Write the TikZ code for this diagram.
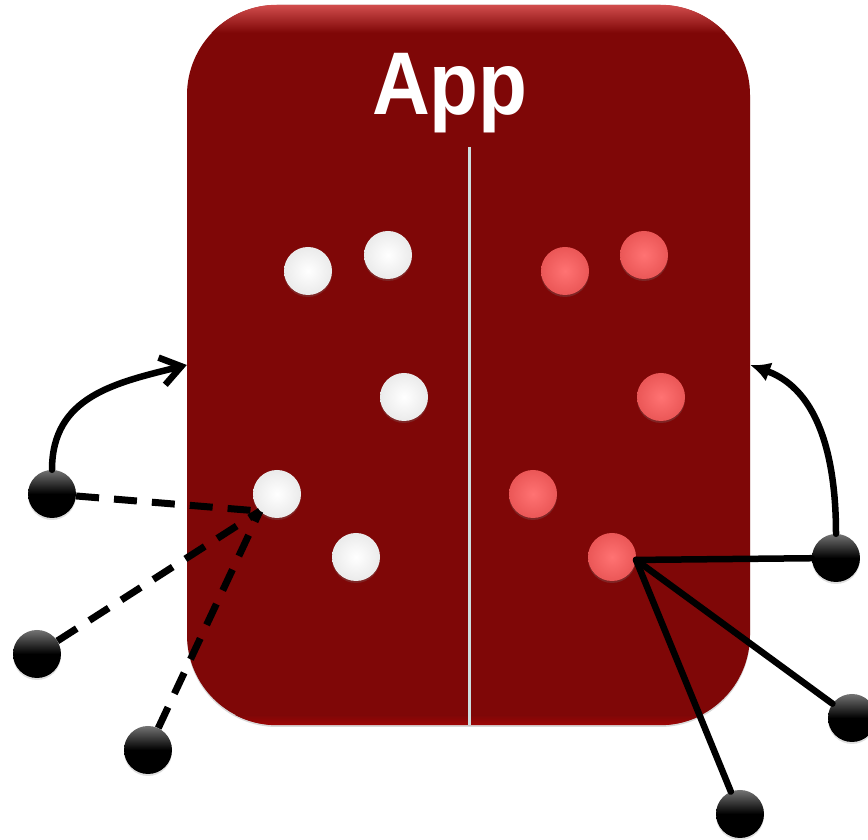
\documentclass[tikz,border=0pt]{standalone}
\usepackage{fontspec}
\setsansfont{Liberation Sans}
\usetikzlibrary{arrows}
\usetikzlibrary{arrows.meta}
\usetikzlibrary{shadows}
\definecolor{ccqqqq}{rgb}{0.498,0.027,0.027}
\definecolor{ddttqq}{rgb}{0.82,0.30,0.30}
\definecolor{ffwwww}{rgb}{1.,0.45,0.45}
\definecolor{eeqqqq}{rgb}{0.92,0.34,0.34}
\definecolor{ccdddd}{rgb}{0.80,0.87,0.88}
\tikzset{
  ball/.style={circle,inner sep=0pt,minimum size=48pt,
    drop shadow={shadow xshift=0pt,shadow yshift=-2pt,opacity=0.25}},
  whiteball/.style={ball,shading=radial,inner color=white,outer color=black!8},
  pinkball/.style={ball,shading=radial,inner color=ffwwww,outer color=eeqqqq},
  blackball/.style={ball,top color=black!55,bottom color=black,middle color=black},
  link/.style={line width=6.5pt},
  dashlink/.style={line width=7pt,line cap=butt,dash pattern=on 23pt off 15pt}
}

\begin{document}
\begin{tikzpicture}[line cap=round,line join=round,x=1pt,y=1pt]
\useasboundingbox (0,0) rectangle (868,840);
% app body
\node[fill=ccqqqq,rounded corners=90pt,minimum width=563pt,minimum height=720pt,inner sep=0pt,
  drop shadow={shadow xshift=0pt,shadow yshift=-2pt,opacity=0.3}] (app) at (468.5,475) {};
\begin{scope}
\clip[rounded corners=90pt] (app.south west) rectangle (app.north east);
\shade[top color=ddttqq,bottom color=ccqqqq] (app.north west) rectangle ([yshift=-28pt]app.north east);
\shade[top color=ccqqqq,bottom color=ccqqqq!75!red] ([yshift=10pt]app.south west) rectangle (app.south east);
\end{scope}
\node[anchor=base,text=white,font=\sffamily\bfseries\fontsize{89}{89}\selectfont,xscale=0.9] (title) at (450,725) {App};
\coordinate (divtop) at (469,693);
\draw[color=ccdddd,line width=3pt,line cap=butt] (divtop) -- (divtop |- app.south);
% left half
\node[whiteball] (w1) at (308,569) {};
\node[whiteball] (w2) at (388,585) {};
\node[whiteball] (w3) at (404,443) {};
\node[whiteball] (w4) at (277,346) {};
\node[whiteball] (w5) at (356,283) {};
% right half
\node[pinkball] (p1) at (565,569) {};
\node[pinkball] (p2) at (644,585) {};
\node[pinkball] (p3) at (661,443) {};
\node[pinkball] (p4) at (533,346) {};
\node[pinkball] (p5) at (612,283) {};
% outside
\node[blackball] (b1) at (52,346) {};
\node[blackball] (b2) at (37,186) {};
\node[blackball] (b3) at (148,90) {};
\node[blackball] (b4) at (836,282) {};
\node[blackball] (b5) at (852,122) {};
\node[blackball] (b6) at (740,26) {};
\draw[dashlink] (b1) -- (w4.south west);
\draw[dashlink] (b2) -- (w4.south west);
\draw[dashlink] (b3) -- (w4.south west);
\draw[link] (b4) -- (p5.-7);
\draw[link] (b5) -- (p5.-7);
\draw[link] (b6) -- (p5.-7);
\draw[link,-{Straight Barb[length=20pt,width=28pt]}] (b1.north) to[out=90,in=194,looseness=1.1] (app.west);
\draw[link,-{Latex[length=20pt,width=20pt]}] (b4.north) to[out=90,in=-20] (app.east);
\end{tikzpicture}
\end{document}
